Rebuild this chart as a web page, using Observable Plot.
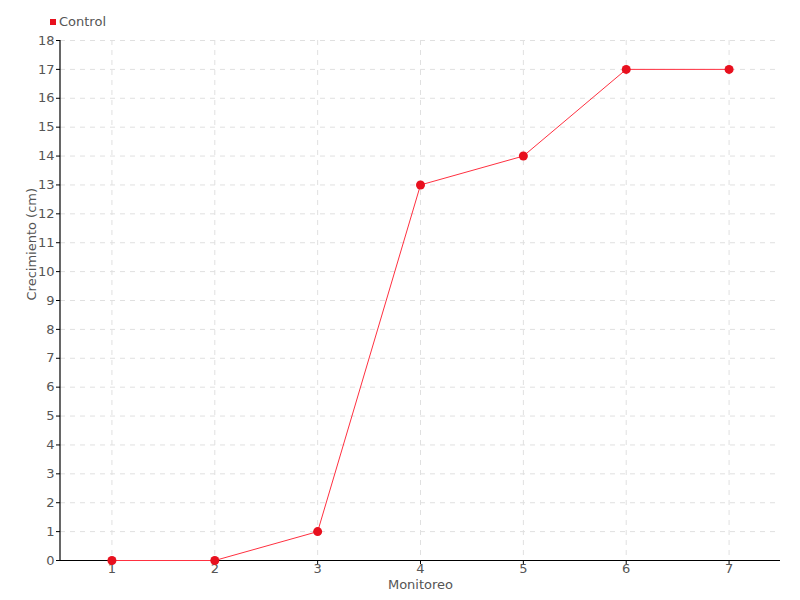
<!DOCTYPE html>
<html>
<head>
<meta charset="utf-8">
<script src="https://cdn.jsdelivr.net/npm/d3@7"></script>
<script src="https://cdn.jsdelivr.net/npm/@observablehq/plot@0.6"></script>
<style>
  body { margin: 0; background: #fff; font-family: "DejaVu Sans", sans-serif; }
  #legend { height: 32px; position: relative; font-size: 13px; color: #555; }
  #legend .sw { position: absolute; left: 50px; top: 19px; width: 6px; height: 6px; background: #e8101e; }
  #legend .lb { position: absolute; left: 59px; top: 14px; }
</style>
</head>
<body>
<div id="legend"><span class="sw"></span><span class="lb">Control</span></div>
<div id="chart"></div>
<script>
const monitoreo = [1, 2, 3, 4, 5, 6, 7];
const control = [0, 0, 1, 13, 14, 17, 17];
const yTicks = d3.range(0, 19);

const data = monitoreo.map((m, i) => ({m, v: control[i]}));

const chart = Plot.plot({
  width: 800,
  height: 568,
  marginTop: 8,
  marginBottom: 40,
  marginLeft: 60,
  marginRight: 20,
  style: {fontFamily: '"DejaVu Sans", sans-serif', fontSize: "13px", color: "#555"},
  x: {type: "point", domain: monitoreo, padding: 0.5, round: false},
  y: {domain: [0, 18]},
  marks: [
    Plot.ruleX(monitoreo, {x: d => d, stroke: "#e0e0e0", strokeDasharray: "5,5"}),
    Plot.ruleY(yTicks.filter(d => d > 0), {y: d => d, stroke: "#e0e0e0", strokeDasharray: "5,5"}),
    Plot.axisX({ticks: monitoreo, tickSize: 4, tickPadding: -1, fontSize: 13, color: "#555", label: null}),
    Plot.axisY({ticks: yTicks, tickSize: 4, tickPadding: 2, fontSize: 13, color: "#555", label: null}),
    Plot.ruleY([0], {stroke: "#000", strokeWidth: 1.2}),
    Plot.lineY(data, {x: "m", y: "v", stroke: "#ff3040", strokeWidth: 1}),
    Plot.dot(data, {x: "m", y: "v", r: 4.5, fill: "#e8101e", stroke: null}),
    Plot.text(["Monitoreo"], {frameAnchor: "bottom", dy: 28, fontSize: 13, fill: "#555"}),
    Plot.text(["Crecimiento (cm)"], {frameAnchor: "left", dx: -29, rotate: -90, fontSize: 13, fill: "#555"})
  ]
});
const svg = d3.select(chart);
svg.append("line").attr("x1", 60).attr("x2", 60).attr("y1", 8).attr("y2", 528).attr("stroke", "#000").attr("stroke-width", 1.2);
svg.selectAll("[aria-label='x-axis tick'] path, [aria-label='y-axis tick'] path").attr("stroke", "#000");
document.getElementById("chart").appendChild(chart);
</script>
</body>
</html>
